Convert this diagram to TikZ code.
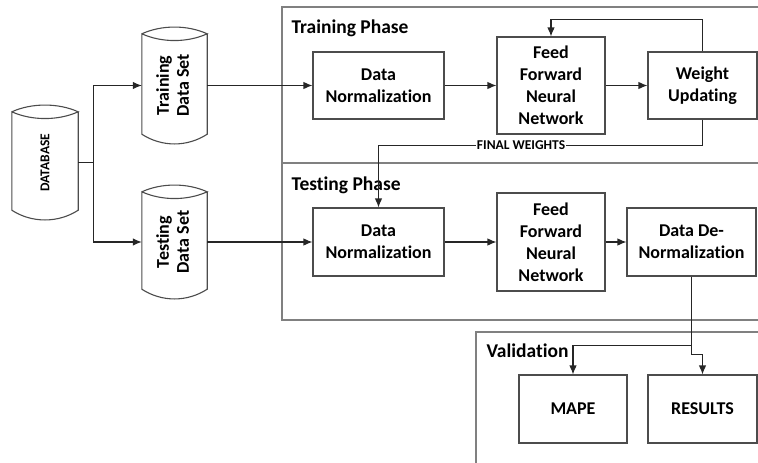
\documentclass[tikz,border=0pt]{standalone}
\usepackage{fontspec}
\setmainfont[RawFeature=-liga]{Carlito}
\usetikzlibrary{positioning, calc, arrows.meta}

\begin{document}
\begin{tikzpicture}[x=1pt,y=-1pt,
        font=\bfseries\fontsize{18}{22}\selectfont,
        block/.style={% For the process boxes
            rectangle,
            draw=black!70,
            line width=1.1pt,
            align=center,
            inner sep=0pt,
            },
        datacyl/.style={% For the data stores
            rectangle,
            inner sep=0pt,
            minimum width=65pt,
            },
        cylline/.style={draw=black!70, line width=1.1pt},
        phase/.style={draw=black!50, line width=1.8pt},
        title/.style={anchor=base west, font=\bfseries\fontsize{19.5}{22}\selectfont},
        small/.style={font=\bfseries\fontsize{13.5}{14}\selectfont},
        ArrowC/.style={% Connectors with a tip
            draw=black!85,
            line width=1.1pt,
            -{Latex[length=9pt,width=7.5pt]},
            },
        LineC/.style={draw=black!85, line width=1.1pt},
            ]
        \useasboundingbox (0,0) rectangle (758,463);
        % Draw the phase frames
        \draw[phase] (758,7) -| (282,163) -- (758,163);
        \draw[phase] (282,163) |- (758,320);
        \draw[phase] (476,463) |- (758,332);
        \node[title] (trainT) at (288,33) {Training Phase};
        \node[title] (testT) at (288,190) {Testing Phase};
        \node[title] (valT) at (483,357) {Validation};
        % Draw the data stores
        \node[datacyl, minimum width=66pt, minimum height=115pt] (db) at (45,162.5)
            {\rotatebox{90}{\fontsize{13.5}{14}\selectfont DATABASE}};
        \node[datacyl, minimum height=117pt] (trs) at (174.5,85.5)
            {\rotatebox{90}{\begin{tabular}{@{}c@{}}Training\\[-2pt]Data Set\end{tabular}}};
        \node[datacyl, minimum height=114pt] (tss) at (174.5,242)
            {\rotatebox{90}{\begin{tabular}{@{}c@{}}Testing\\[-2pt]Data Set\end{tabular}}};
        \foreach \n in {db,trs,tss}
        {\draw[cylline] ($(\n.north west)+(0,7)$) coordinate (tl)
            .. controls +(20,-9) and +(-20,-9) .. ($(\n.north east)+(0,7)$) coordinate (tr)
            .. controls +(-20,9) and +(20,9) .. (tl)
            -- ($(\n.south west)+(0,-10)$)
            .. controls +(20,13) and +(-20,13) .. ($(\n.south east)+(0,-10)$) -- (tr);}
        % Training boxes
        \node[block, minimum width=131pt, minimum height=67pt] (dn1) at (378.5,85.5) {Data\\Normalization};
        \node[block, minimum width=108pt, minimum height=97pt] (ff1) at (551,85.5) {Feed\\Forward\\Neural\\Network};
        \node[block, minimum width=109pt, minimum height=67pt] (wu) at (702.5,85.5) {Weight\\Updating};
        % Testing boxes
        \node[block, minimum width=131pt, minimum height=68pt] (dn2) at (378.5,242) {Data\\Normalization};
        \node[block, minimum width=108pt, minimum height=98pt] (ff2) at (551,242) {Feed\\Forward\\Neural\\Network};
        \node[block, minimum width=129pt, minimum height=68pt] (ddn) at (691.5,242) {Data De-\\Normalization};
        % Validation boxes
        \node[block, minimum width=108pt, minimum height=68pt] (mape) at (573,409) {MAPE};
        \node[block, minimum width=109pt, minimum height=68pt] (res) at (702.5,409) {RESULTS};
        % Start connecting all.
        \draw[LineC] (db.east) -- ++(15,0) coordinate (split);
        \draw[ArrowC] (split) |- (trs.west);
        \draw[ArrowC] (split) |- (tss.west);
        \draw[ArrowC] (trs.east) -- (dn1.west);
        \draw[ArrowC] (tss.east) -- (dn2.west);
        \draw[ArrowC] (dn1) -- (ff1);
        \draw[ArrowC] (ff1) -- (wu);
        \draw[ArrowC] (wu.north) -- ++(0,-32) -| (ff1.north);
        \draw[ArrowC] (wu.south) -- ++(0,26) -| (dn2.north)
            node[pos=0.28, small, fill=white, inner xsep=1pt, inner ysep=0pt] (fw) {FINAL WEIGHTS};
        \draw[ArrowC] (dn2) -- (ff2);
        \draw[ArrowC] (ff2) -- (ddn);
        \draw[LineC] (ddn.south) -- ++(0,69) coordinate (vsplit);
        \draw[ArrowC] (vsplit) -| (mape.north);
        \draw[ArrowC] (vsplit) -- ++(0,9) -| (res.north);
\end{tikzpicture}
\end{document}
